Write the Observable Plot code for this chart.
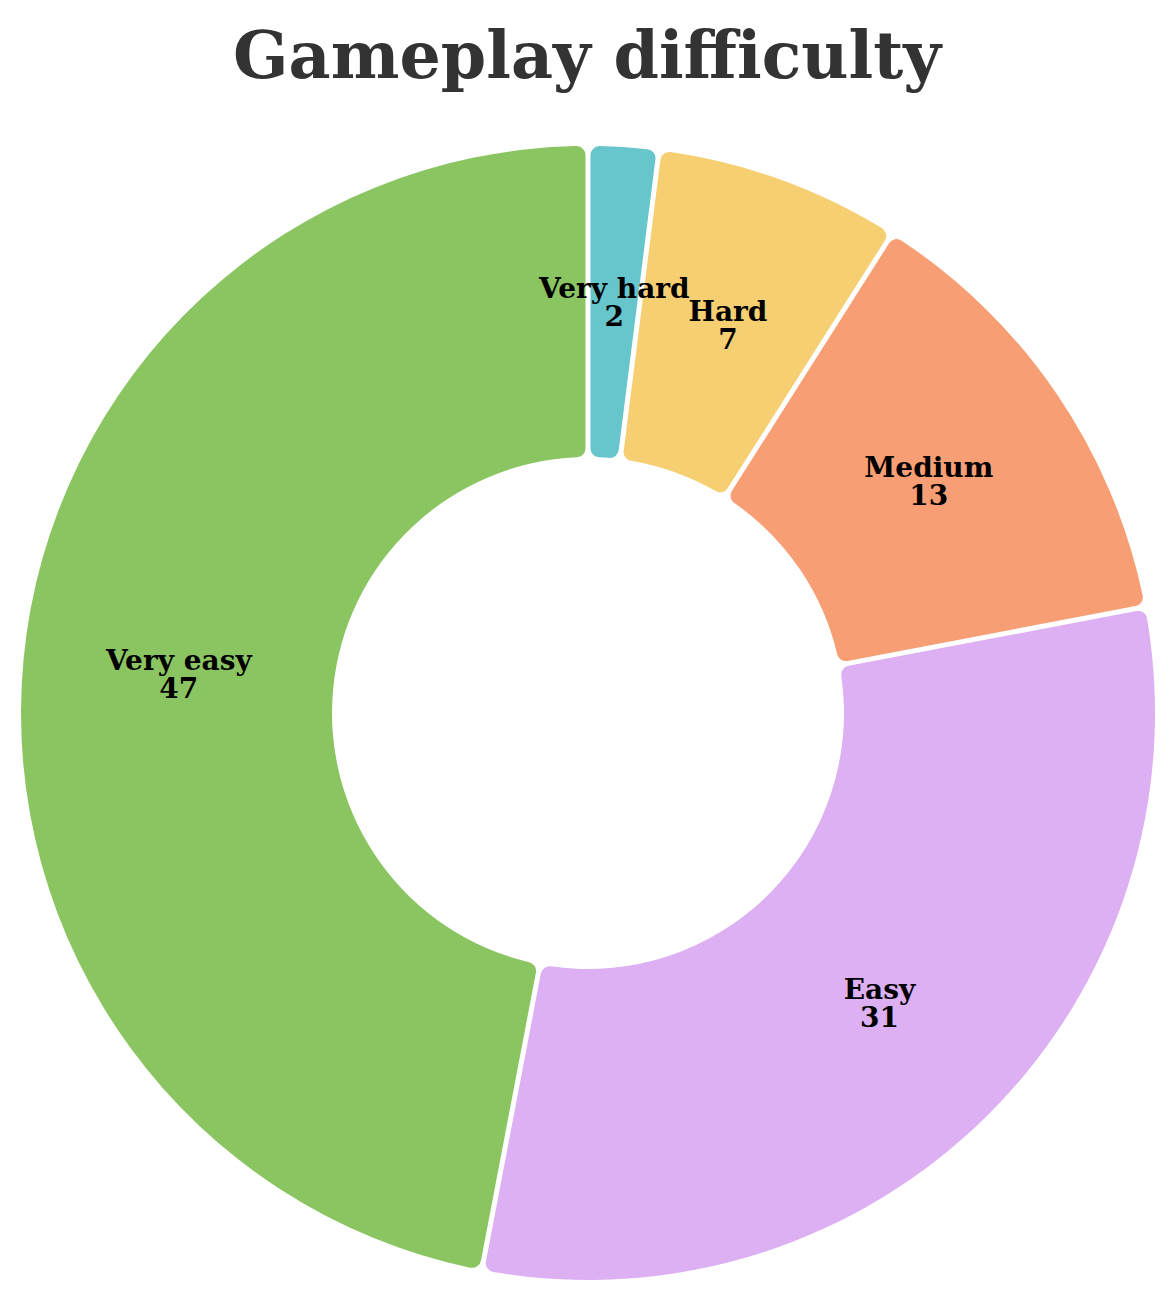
<!DOCTYPE html>
<html>
<head>
<meta charset="utf-8">
<script src="https://cdn.jsdelivr.net/npm/d3@7"></script>
<script src="https://cdn.jsdelivr.net/npm/@observablehq/plot@0.6"></script>
<style>
  html, body { margin: 0; padding: 0; background: #fff; }
  #title { height: 125px; margin: 0; text-align: center; font-family: "DejaVu Serif", serif; font-weight: bold; font-size: 65px; line-height: 110px; color: #333; }
  #chart svg { display: block; }
</style>
</head>
<body>
<h1 id="title">Gameplay difficulty</h1>
<div id="chart"></div>
<script>
const categories = ["Very hard", "Hard", "Medium", "Easy", "Very easy"];
const values = [2, 7, 13, 31, 47];
const colors = ["#67c5cc", "#f6cf72", "#f89e74", "#dcb0f2", "#8bc561"];

const W = 1174, H = 1175;
const cx = 588, cy = 588;
const outerR = 567, innerR = 256;

const data = categories.map((c, i) => ({category: c, value: values[i]}));
const pie = d3.pie().sort(null).value(d => d.value);
const arcs = pie(data);
const arcGen = d3.arc()
  .innerRadius(innerR).outerRadius(outerR)
  .cornerRadius(9).padAngle(5 / outerR).padRadius(outerR);

const labels = arcs.map(a => {
  const [x, y] = arcGen.centroid(a);
  return {x: cx + x, y: cy + y, text: `${a.data.category}\n${a.data.value}`};
});

const donut = (index, scales, values, dimensions) => {
  const g = d3.create("svg:g");
  const ox = scales.x(cx), oy = scales.y(cy);
  const k = scales.x(1) - scales.x(0);
  g.attr("transform", `translate(${ox},${oy}) scale(${k})`);
  g.selectAll("path").data(arcs).join("path")
    .attr("d", arcGen)
    .attr("fill", d => scales.color(d.data.category));
  return g.node();
};

const chart = Plot.plot({
  width: W, height: H,
  margin: 0,
  x: {domain: [0, W], range: [0, W], axis: null},
  y: {domain: [0, H], range: [0, H], axis: null},
  color: {domain: categories, range: colors},
  style: {background: "white"},
  marks: [
    donut,
    Plot.text(labels, {
      x: "x", y: "y", text: "text",
      fontSize: 28, fontWeight: "bold", fontFamily: "DejaVu Serif, serif",
      fill: "black", lineHeight: 1.0, textAnchor: "middle"
    })
  ]
});
document.getElementById("chart").appendChild(chart);
</script>
</body>
</html>
